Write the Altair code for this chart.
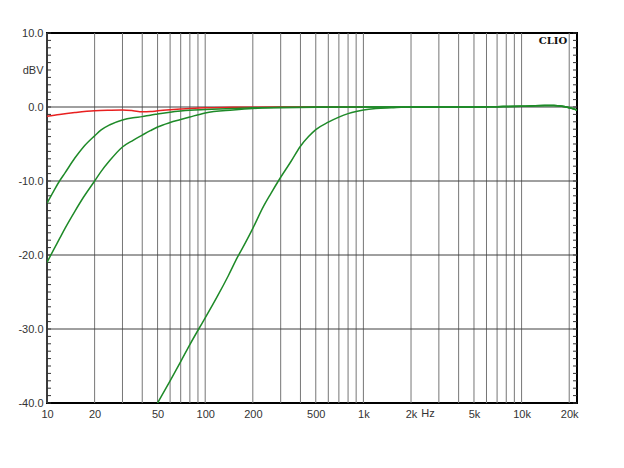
import altair as alt
import pandas as pd

# ---- data ----
red_f = [10, 12, 15, 20, 25, 30, 35, 40, 45, 50, 60, 70, 80, 100, 150, 200, 300, 500, 1000]
red_db = [-1.25, -1.0, -0.75, -0.5, -0.43, -0.4, -0.5, -0.65, -0.62, -0.52, -0.38, -0.28, -0.2, -0.1, -0.05, -0.02, 0.0, 0.0, 0.0]

hi_f = [2000, 3000, 5000, 7000, 10000, 14000, 16000, 18000, 20000, 22400]
hi_db = [0.0, 0.0, 0.0, 0.05, 0.1, 0.2, 0.2, 0.1, -0.1, -0.4]

g1_f = [10, 11, 12, 13, 15, 17, 20, 22, 25, 30, 35, 40, 45, 50, 60, 70, 80, 100, 150, 200, 300, 500, 1000] + hi_f
g1_db = [-13.0, -11.4, -10.0, -8.9, -6.9, -5.4, -3.9, -3.1, -2.4, -1.75, -1.45, -1.3, -1.1, -0.95, -0.7,
         -0.55, -0.45, -0.35, -0.2, -0.1, -0.05, 0.0, 0.0] + hi_db

g2_f = [10, 11, 12, 13, 15, 17, 20, 22, 25, 30, 35, 40, 45, 50, 60, 70, 80, 100, 150, 200, 300, 500, 1000] + hi_f
g2_db = [-21.0, -19.3, -17.8, -16.4, -14.1, -12.2, -10.0, -8.7, -7.2, -5.4, -4.5, -3.8, -3.2, -2.7, -2.1,
         -1.7, -1.35, -0.8, -0.4, -0.2, -0.1, -0.03, 0.0] + hi_db

g3_f = [50, 60, 70, 80, 91, 100, 120, 140, 160, 180, 200, 234, 260, 290, 350, 400, 450, 500, 600, 700,
        800, 900, 1000, 1200, 1500] + hi_f
g3_db = [-40.0, -37.0, -34.4, -32.1, -30.0, -28.5, -25.5, -22.8, -20.3, -18.3, -16.4, -13.4, -11.7, -10.0,
         -7.3, -5.3, -4.0, -3.05, -2.05, -1.37, -0.9, -0.6, -0.4, -0.2, -0.1] + hi_db

x_ticks = [10, 20, 50, 100, 200, 500, 1000, 2000, 5000, 10000, 20000]
y_labels = [-40, -30, -20, -10, 0, 5, 10]
grid_f = [m * d for d in [10, 100, 1000] for m in range(1, 10)] + [10000, 20000]
grid_db = [-30, -20, -10, 0]
minor_db = list(range(-40, 11))

W, H = 530, 370

red_df = pd.DataFrame({"freq": red_f, "db": red_db, "series": "red"})
green_df = pd.concat([
    pd.DataFrame({"freq": g1_f, "db": g1_db, "series": "g1"}),
    pd.DataFrame({"freq": g2_f, "db": g2_db, "series": "g2"}),
    pd.DataFrame({"freq": g3_f, "db": g3_db, "series": "g3"}),
])

font = "Liberation Sans"
x_axis = alt.Axis(values=x_ticks, grid=False, ticks=False, domain=False, title=None,
                  labelExpr="datum.value >= 1000 ? (datum.value/1000) + 'k' : datum.value",
                  labelFont=font, labelFontSize=11, labelColor="#333333", labelPadding=5,
                  labelFlush=False, labelOverlap=False)
y_axis = alt.Axis(values=y_labels, grid=False, ticks=False, domain=False, title=None,
                  labelExpr="datum.value == 5 ? 'dBV' : (datum.value < 0 ? '-' + format(-datum.value, '.1f') : format(datum.value, '.1f'))",
                  labelFont=font, labelFontSize=11, labelColor="#333333", labelPadding=4,
                  labelOverlap=False)
xs = alt.Scale(type="log", domain=[10, 22400], nice=False)
ys = alt.Scale(domain=[-40, 10], nice=False, zero=False)

X = alt.X("freq:Q", scale=xs, axis=x_axis)
Y = alt.Y("db:Q", scale=ys, axis=y_axis)

vgrid = alt.Chart(pd.DataFrame({"freq": grid_f})).mark_rule(color="#767676", strokeWidth=1).encode(x=X)
hgrid = alt.Chart(pd.DataFrame({"db": grid_db})).mark_rule(color="#404040", strokeWidth=1).encode(y=Y)
lticks = alt.Chart(pd.DataFrame({"db": minor_db})).mark_rule(color="#333333").encode(
    y=Y, x=alt.value(0), x2=alt.value(4))
rticks = alt.Chart(pd.DataFrame({"db": minor_db})).mark_rule(color="#333333").encode(
    y=Y, x=alt.value(W - 4), x2=alt.value(W))

red_line = alt.Chart(red_df).mark_line(color="#e82020", strokeWidth=1.5, clip=True,
                                       interpolate="monotone").encode(x=X, y=Y)
green_lines = alt.Chart(green_df).mark_line(color="#1e8a28", strokeWidth=1.5, clip=True,
                                            interpolate="monotone").encode(
    x=X, y=Y, detail="series:N")

clio = alt.Chart(pd.DataFrame({"t": ["CLIO"]})).mark_text(
    font="DejaVu Serif", fontWeight="bold", fontSize=10, color="#111111").encode(
    text="t:N", x=alt.value(506), y=alt.value(8))
hz = alt.Chart(pd.DataFrame({"t": ["Hz"]})).mark_text(
    font=font, fontSize=11, color="#333333", baseline="top").encode(
    text="t:N", x=alt.datum(2560, scale=xs), y=alt.value(H + 5))

chart = alt.layer(vgrid, hgrid, lticks, rticks, red_line, green_lines, clio, hz).properties(
    width=W, height=H,
    padding={"left": 39, "top": 25, "right": 30, "bottom": 40},
    autosize=alt.AutoSizeParams(type="none"),
    background="white",
).configure_view(stroke="#000000", strokeWidth=2)

chart.save("out.html", embed_options={"renderer": "svg", "actions": False})
